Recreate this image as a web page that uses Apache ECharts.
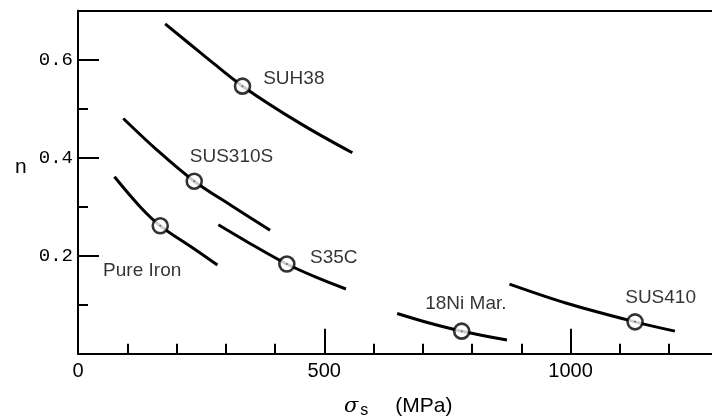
<!DOCTYPE html>
<html>
<head>
<meta charset="utf-8">
<script src="https://cdn.jsdelivr.net/npm/echarts@6/dist/echarts.min.js"></script>
<style>html,body{margin:0;padding:0;background:#fff}#c{width:712px;height:417px}</style>
</head>
<body>
<div id="c"></div>
<script>
// Curves: [sigma_s (MPa), n]
const suh38   = [[177,0.673],[254,0.610],[334,0.546],[451,0.470],[557,0.410]];
const sus310s = [[92,0.480],[160,0.416],[236,0.352],[315,0.300],[390,0.252]];
const pureIron= [[74,0.361],[126,0.300],[167,0.261],[234,0.215],[283,0.181]];
const s35c    = [[285,0.263],[349,0.225],[424,0.183],[488,0.154],[544,0.132]];
const ni18    = [[648,0.082],[715,0.062],[779,0.046],[871,0.028]];
const sus410  = [[876,0.142],[992,0.103],[1131,0.065],[1212,0.046]];
// Marked points (circles)
const markers = [[334,0.546],[236,0.352],[167,0.261],[424,0.183],[779,0.046],[1131,0.065]];
// Curve names and label anchors (left edge, vertical centre)
const names   = ['SUH38','SUS310S','Pure Iron','S35C','18Ni Mar.','SUS410'];
const labelAt = [[376,0.561],[227,0.402],[51,0.170],[471,0.196],[705,0.102],[1111,0.114]];
const xTicks  = [0,500,1000];
const yTicks  = ['0.2','0.4','0.6'];

const curves = [suh38, sus310s, pureIron, s35c, ni18, sus410];
const black = '#000';
const chart = echarts.init(document.getElementById('c'));
const series = curves.map((d,i)=>({
  type:'line', name:names[i], data:d, smooth:0.35, showSymbol:false, symbol:'none',
  lineStyle:{color:black,width:3}, xAxisIndex:0, yAxisIndex:0, z:2, silent:true
}));
series.push({
  type:'scatter', data:markers, symbol:'circle', symbolSize:15,
  itemStyle:{color:'#fff',borderColor:black,borderWidth:2.6}, z:5, silent:true
});
series.push({
  type:'scatter', data:markers, symbol:'circle', symbolSize:2,
  itemStyle:{color:'#555'}, z:6, silent:true
});
series.push({
  type:'scatter', data:names.map((n,i)=>({name:n,value:labelAt[i]})), symbolSize:0,
  label:{show:true,position:'right',distance:0,formatter:'{b}',color:black,
    fontFamily:'Liberation Sans',fontSize:19}, z:7, silent:true
});

chart.setOption({
  animation:false,
  backgroundColor:'#fff',
  grid:{left:78,right:-6.3,top:10.7,bottom:63.3,containLabel:false,outerBoundsMode:'none'},
  xAxis:[{
    type:'value', min:0, max:1300, interval:500, position:'bottom',
    axisLine:{show:true,onZero:false,lineStyle:{color:black,width:2}},
    axisTick:{show:true,inside:true,length:25,lineStyle:{color:black,width:2}},
    minorTick:{show:true,splitNumber:5,length:10,lineStyle:{color:black,width:2}},
    splitLine:{show:false}, minorSplitLine:{show:false},
    axisLabel:{margin:8,color:black,fontFamily:'Liberation Sans',fontSize:20,
      formatter:v=>xTicks.indexOf(v)>=0?String(v):''},
    name:'{sig|σ}{sub|s}{gap|}{unit|(MPa)}', nameLocation:'middle', nameGap:41,
    nameTextStyle:{rich:{
      sig:{fontFamily:'DejaVu Serif',fontStyle:'italic',fontSize:21,color:black},
      sub:{fontFamily:'Liberation Sans',fontSize:16,color:black,padding:[8,0,0,2]},
      gap:{width:27},
      unit:{fontFamily:'Liberation Sans',fontSize:21,color:black}
    }}
  },{
    type:'value', min:0, max:1300, position:'top',
    axisLine:{show:true,onZero:false,lineStyle:{color:black,width:2}},
    axisTick:{show:false}, axisLabel:{show:false}, splitLine:{show:false}
  }],
  yAxis:[{
    type:'value', min:0, max:0.7, interval:0.1, position:'left',
    axisLine:{show:true,onZero:false,lineStyle:{color:black,width:2}},
    axisTick:{show:true,inside:true,length:10,lineStyle:{color:black,width:2}},
    axisLabel:{show:false}, splitLine:{show:false}
  },{
    type:'value', min:0, max:0.7, interval:0.2, position:'left', offset:0,
    axisLine:{show:false},
    axisTick:{show:true,inside:true,length:21,lineStyle:{color:black,width:2}},
    splitLine:{show:false},
    axisLabel:{margin:5,color:black,fontFamily:'Liberation Mono',fontSize:19,
      formatter:v=>{const s=v.toFixed(1);return yTicks.indexOf(s)>=0?s:'';}}
  }],
  graphic:[{type:'text',left:15,top:157,style:{text:'n',fontFamily:'Liberation Sans',fontSize:21,fill:black}}],
  series
});
</script>
</body>
</html>
